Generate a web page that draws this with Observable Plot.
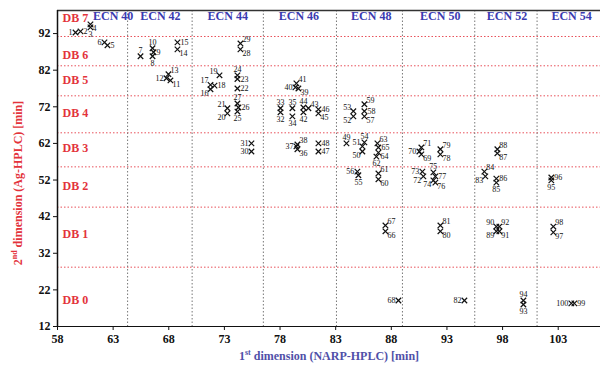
<!DOCTYPE html>
<html><head><meta charset="utf-8">
<script src="https://cdn.jsdelivr.net/npm/d3@7"></script>
<script src="https://cdn.jsdelivr.net/npm/@observablehq/plot@0.6"></script>
<style>body{margin:0;background:#fff}</style>
</head><body><div id="chart"></div>
<script>
// ---- data ----
const peakIds = d3.range(1, 101);
const narpRt = [59.62,60.07,60.96,60.96,62.49,62.22,65.46,66.54,66.63,66.54,
  68.15,67.79,67.97,68.78,68.78,71.75,71.75,72.11,72.56,73.27,
  73.27,74.17,74.17,74.17,74.17,74.26,74.17,74.44,74.44,75.43,
  75.43,78.04,78.04,79.11,79.11,79.56,79.47,79.56,79.65,79.38,
  79.47,80.10,80.55,80.10,81.45,81.45,81.45,81.45,83.97,85.40,
  85.40,84.59,84.59,85.58,85.04,84.95,85.58,85.58,85.58,86.84,
  86.84,86.66,86.75,86.84,86.84,87.47,87.47,88.64,90.70,90.52,
  90.70,90.88,90.79,91.78,91.78,91.96,91.96,92.41,92.41,92.41,
  92.41,94.57,96.45,96.36,97.44,97.44,97.53,97.53,97.44,97.44,
  97.71,97.71,99.87,99.87,102.38,102.38,102.56,102.56,104.45,104.18];
const agRt = [92.3,92.6,93.7,94.5,88.8,89.6,85.8,85.8,86.9,88.0,
  79.2,79.8,80.9,87.7,89.6,76.8,78.0,77.8,80.6,70.2,
  71.6,77.0,79.6,80.6,70.7,71.8,72.9,87.7,89.3,59.8,
  62.0,70.5,71.6,69.4,71.6,60.4,61.2,61.7,77.0,77.3,
  78.4,70.5,71.6,71.8,70.2,71.3,59.8,62.0,62.0,59.8,
  61.2,69.4,70.8,62.3,53.3,54.3,69.4,70.8,72.7,52.2,
  53.8,58.4,62.0,59.5,60.9,38.0,39.6,19.1,59.0,59.8,
  60.9,53.0,54.3,51.9,54.1,51.3,53.0,59.0,60.4,38.0,
  39.6,19.1,53.0,54.3,51.3,52.4,59.3,60.4,38.0,39.3,
  38.0,39.3,18.0,19.1,51.9,52.7,37.7,39.3,18.3,18.3];
const ecnNames = ["ECN 40","ECN 42","ECN 44","ECN 46","ECN 48","ECN 50","ECN 52","ECN 54"];
const ecnLabelX = [63.0,67.25,73.3,79.7,86.2,92.4,98.4,104.2];
const ecnBounds = [64.3,70.1,76.5,83.07,89.0,95.5,101.1];
const dbNames = ["DB 7","DB 6","DB 5","DB 4","DB 3","DB 2","DB 1","DB 0"];
const dbLabelY = [96.3,86.0,79.2,70.2,60.6,50.4,37.3,19.3];
const dbBounds = [91.2,83.2,75.0,64.9,55.6,44.6,28.2];
const xTicks = [58,63,68,73,78,83,88,93,98,103];
const yTicks = [12,22,32,42,52,62,72,82,92];
const xDomain = [58,106.8];
const yDomain = [12,98.3];

// ---- label placement (layout config) ----
const labelSide = ["l","r","b","br","r","l","t","b","r","t",
  "br","l","tr","br","r","bl","tl","r","tl","bl",
  "tl","r","r","t","b","r","t","br","tr","l",
  "l","b","t","b","t","br","l","tr","br","l",
  "tr","b","tr","t","br","r","r","r","t","bl",
  "tl","bl","tl","t","b","l","br","r","tr","br",
  "tr","b","tr","br","r","br","tr","l","br","l",
  "tr","bl","l","bl","t","br","r","br","tr","br",
  "tr","l","bl","tr","b","r","br","tr","bl","tl",
  "br","tr","b","t","b","r","br","tr","r","l"];
const sideOffsets = {
  r:{dx:3,dy:0,textAnchor:"start"}, l:{dx:-3,dy:0,textAnchor:"end"},
  t:{dx:0,dy:-6,textAnchor:"middle"}, b:{dx:0,dy:7,textAnchor:"middle"},
  tr:{dx:2,dy:-4,textAnchor:"start"}, br:{dx:2,dy:4,textAnchor:"start"},
  tl:{dx:-2,dy:-4,textAnchor:"end"}, bl:{dx:-2,dy:4,textAnchor:"end"}
};

const peaks = peakIds.map((id,i)=>({id, x:narpRt[i], y:agRt[i], side:labelSide[i]}));
const dbLabels = dbNames.map((n,i)=>({n, y:dbLabelY[i]}));
const ecnLabels = ecnNames.map((n,i)=>({n, x:ecnLabelX[i]}));

const RED = "#e3333b", BLUE = "#3a3ab0";
const serif = "'Liberation Serif','DejaVu Serif',serif";

const labelMarks = Object.entries(sideOffsets).map(([s,o]) =>
  Plot.text(peaks.filter(d=>d.side===s), {x:"x", y:"y", text:d=>String(d.id),
    dx:o.dx, dy:o.dy, textAnchor:o.textAnchor, fontSize:8, fill:"#111"}));

const plot = Plot.plot({
  width:600, height:367,
  marginLeft:57, marginRight:0, marginTop:10, marginBottom:41,
  style:{fontFamily:serif, fontSize:"12px", background:"#fff", color:"#111"},
  x:{domain:xDomain}, y:{domain:yDomain},
  marks:[
    Plot.ruleY(dbBounds, {stroke:"#e8505a", strokeDasharray:"1.5,2", strokeWidth:1}),
    Plot.ruleX(ecnBounds, {stroke:"#777", strokeDasharray:"1.5,2", strokeWidth:1}),
    Plot.ruleY([yDomain[1]], {stroke:"#333", strokeWidth:1.5}),
    Plot.ruleY([yDomain[0]], {stroke:"#111", strokeWidth:1.2}),
    Plot.ruleX([xDomain[0]], {stroke:"#111", strokeWidth:1.5}),
    Plot.axisX({ticks:xTicks, tickSize:4, tickPadding:4, fontWeight:"bold", fontSize:12, label:null}),
    Plot.axisY({ticks:yTicks, tickSize:4, tickPadding:3, fontWeight:"bold", fontSize:12, label:null}),
    Plot.text(dbLabels, {x:xDomain[0], y:"y", text:"n", dx:5, textAnchor:"start", fill:RED, fontWeight:"bold", fontSize:12}),
    Plot.text(ecnLabels, {x:"x", y:yDomain[1], text:"n", dy:6, textAnchor:"middle", fill:BLUE, fontWeight:"bold", fontSize:12}),
    Plot.dot(peaks, {x:"x", y:"y", symbol:"times", r:2.6, stroke:"#111", strokeWidth:1.2}),
    ...labelMarks
  ]
});
document.getElementById("chart").append(plot);

// axis titles with superscripts
const svg = d3.select(plot);
const yt = svg.append("text")
  .attr("transform","translate(22,183) rotate(-90)")
  .attr("text-anchor","middle").attr("fill",RED)
  .style("font-family",serif).style("font-weight","bold").style("font-size","12px");
yt.append("tspan").text("2");
yt.append("tspan").attr("dy",-5).style("font-size","8px").text("nd");
yt.append("tspan").attr("dy",5).text(" dimension (Ag-HPLC) [min]");
const xt = svg.append("text")
  .attr("x",329).attr("y",360)
  .attr("text-anchor","middle").attr("fill","#5050a8")
  .style("font-family",serif).style("font-weight","bold").style("font-size","12px");
xt.append("tspan").text("1");
xt.append("tspan").attr("dy",-5).style("font-size","8px").text("st");
xt.append("tspan").attr("dy",5).text(" dimension (NARP-HPLC) [min]");
</script>
</body></html>
